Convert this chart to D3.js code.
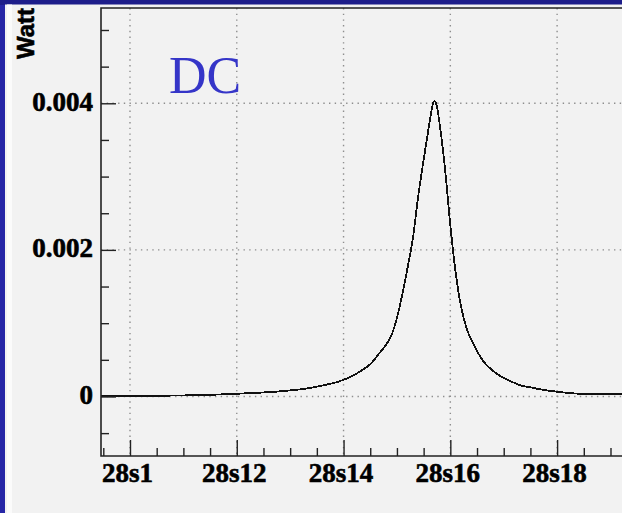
<!DOCTYPE html>
<html>
<head>
<meta charset="utf-8">
<script src="https://cdn.jsdelivr.net/npm/d3@7"></script>
<style>
  html, body { margin: 0; padding: 0; background: #2626a6; }
  svg { display: block; }
</style>
</head>
<body>
<svg id="chart" width="622" height="513"></svg>
<script>
// time in seconds, power in Watt
const times = [9.46, 10.5, 11.4, 12.2, 12.75, 13.1, 13.35, 13.5, 13.7, 13.85, 14.0, 14.15, 14.35, 14.5, 14.67,
  14.8, 14.9, 15.0, 15.1, 15.2, 15.3, 15.4, 15.5, 15.6, 15.67, 15.7, 15.74, 15.8, 15.9, 16.0, 16.1, 16.2,
  16.3, 16.4, 16.6, 16.85, 17.1, 17.3, 17.5, 17.7, 18.0, 18.4, 18.8, 19.3, 19.74];
const watts = [0.000005, 0.00001, 0.00002, 0.000044, 0.000066, 0.00009, 0.000113, 0.000134, 0.000165, 0.00019,
  0.000228, 0.000275, 0.00036, 0.00044, 0.00059, 0.00071, 0.00084, 0.00107, 0.00139, 0.00176, 0.00216,
  0.00274, 0.00323, 0.00369, 0.00398, 0.00403, 0.00398, 0.00372, 0.00311, 0.00234, 0.00169, 0.00123,
  0.00094, 0.00076, 0.0005, 0.00032, 0.00022, 0.000155, 0.000125, 0.000095, 0.000065, 0.000038,
  0.000032, 0.00003, 0.00003];

const xTickValues = [10, 12, 14, 16, 18];
const xTickLabels = ['28s1', '28s12', '28s14', '28s16', '28s18'];
const yTickValues = [0, 0.002, 0.004];
const yTickLabels = ['0', '0.002', '0.004'];

const svg = d3.select('#chart');
const plot = { left: 101, right: 650, top: 8, bottom: 456 };

const x = d3.scaleLinear().domain([9.457, 19.74]).range([plot.left, plot.right]);
const y = d3.scaleLinear().domain([-0.000812, 0.0053]).range([plot.bottom, plot.top]);

//фон и панель
svg.append('rect').attr('x', 0).attr('y', 0).attr('width', 622).attr('height', 5).style('fill', '#1d1d8a');
svg.append('rect').attr('x', 5).attr('y', 4.5).attr('width', 617).attr('height', 509).style('fill', '#f2f2f2');
svg.append('rect').attr('x', 7).attr('y', 4.5).attr('width', 5).attr('height', 509).style('fill', '#fbfbfb');

//сетка
const grid = svg.append('g').classed('grid', true);

grid.selectAll('line.gx')
  .data(xTickValues)
  .enter()
  .append('line')
  .classed('gx', true)
  .attr('x1', d => x(d)).attr('x2', d => x(d))
  .attr('y1', plot.top).attr('y2', plot.bottom);

grid.selectAll('line.gy')
  .data(yTickValues)
  .enter()
  .append('line')
  .classed('gy', true)
  .attr('x1', plot.left).attr('x2', plot.right)
  .attr('y1', d => y(d)).attr('y2', d => y(d));

grid.selectAll('line')
  .style('stroke', '#8e8e8e')
  .style('stroke-width', 1.4)
  .style('stroke-dasharray', '1.4,4.3');

//кривая
const line = d3.line()
  .x((d, i) => x(times[i]))
  .y(d => y(d))
  .curve(d3.curveMonotoneX);

svg.append('path')
  .datum(watts)
  .attr('d', line)
  .style('fill', 'none')
  .style('stroke', '#111')
  .style('stroke-width', 1.8)
  .style('shape-rendering', 'crispEdges');

//оси
const axisStyle = g => {
  g.select('.domain').remove();
  g.selectAll('.tick line').style('stroke', '#222').style('stroke-width', 1.4);
  g.selectAll('.tick text')
    .style('font-family', '"Liberation Serif", serif')
    .style('font-weight', 'bold')
    .style('font-size', '27px')
    .style('fill', '#000')
    .style('stroke', '#000')
    .style('stroke-width', 0.6);
};

const xMinor = d3.range(9.5, 19.6, 0.5).filter(v => !xTickValues.includes(v));
const yMinor = d3.range(-0.0005, 0.00501, 0.0005).filter(v => !yTickValues.some(t => Math.abs(t - v) < 1e-9));

svg.append('g')
  .attr('transform', `translate(0,${plot.bottom})`)
  .call(d3.axisBottom(x).tickValues(xMinor).tickSize(-8).tickFormat(''))
  .call(axisStyle);

svg.append('g')
  .attr('transform', `translate(0,${plot.bottom})`)
  .call(d3.axisBottom(x).tickValues(xTickValues).tickSize(-16).tickPadding(0)
    .tickFormat((d, i) => xTickLabels[i]))
  .call(axisStyle)
  .call(g => g.selectAll('.tick text').attr('dy', null).attr('y', 26).attr('x', -3));

svg.append('g')
  .attr('transform', `translate(${plot.left},0)`)
  .call(d3.axisLeft(y).tickValues(yMinor).tickSize(-8).tickFormat(''))
  .call(axisStyle);

svg.append('g')
  .attr('transform', `translate(${plot.left},0)`)
  .call(d3.axisLeft(y).tickValues(yTickValues).tickSize(-15).tickPadding(0)
    .tickFormat((d, i) => yTickLabels[i]))
  .call(axisStyle)
  .call(g => g.selectAll('.tick text').attr('dy', null).attr('y', 7).attr('x', -8));

//рамка
svg.append('path')
  .attr('d', `M${plot.right},${plot.top}H${plot.left}V${plot.bottom}H${plot.right}`)
  .style('fill', 'none')
  .style('stroke', '#222')
  .style('stroke-width', 1.6);

//подписи
svg.append('text')
  .attr('transform', 'translate(34,8) rotate(-90)')
  .attr('text-anchor', 'end')
  .style('font-family', '"Liberation Sans", Arial, sans-serif')
  .style('font-weight', 'bold')
  .style('font-size', '24px')
  .style('fill', '#000')
  .style('stroke', '#000')
  .style('stroke-width', 0.6)
  .text('Watt');

svg.append('text')
  .attr('x', 169)
  .attr('y', 93)
  .style('font-family', '"Liberation Serif", serif')
  .style('font-size', '52px')
  .style('fill', '#3535c8')
  .text('DC');
</script>
</body>
</html>
